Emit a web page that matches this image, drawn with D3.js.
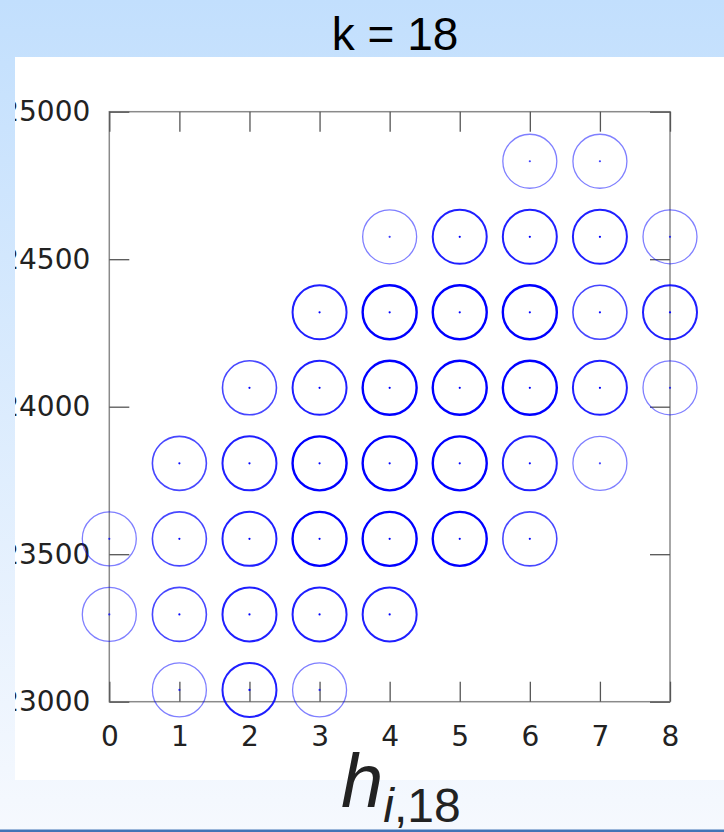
<!DOCTYPE html>
<html>
<head>
<meta charset="utf-8">
<script src="https://cdn.jsdelivr.net/npm/d3@7"></script>
<style>
  html, body { margin: 0; padding: 0; background: #ffffff; }
  svg { display: block; }
</style>
</head>
<body>
<script>
// Attained h-values (x) against the corresponding sums (y) for k = 18.
// count = how many times each (h, sum) pair occurs; drives the circle strength.
const hValues = [
  1, 2, 3,
  0, 1, 2, 3, 4,
  0, 1, 2, 3, 4, 5, 6,
  1, 2, 3, 4, 5, 6, 7,
  2, 3, 4, 5, 6, 7, 8,
  3, 4, 5, 6, 7, 8,
  4, 5, 6, 7, 8,
  6, 7
];
const sumValues = [
  23040, 23040, 23040,
  23296, 23296, 23296, 23296, 23296,
  23552, 23552, 23552, 23552, 23552, 23552, 23552,
  23808, 23808, 23808, 23808, 23808, 23808, 23808,
  24064, 24064, 24064, 24064, 24064, 24064, 24064,
  24320, 24320, 24320, 24320, 24320, 24320,
  24576, 24576, 24576, 24576, 24576,
  24832, 24832
];
const counts = [
  1, 3, 1,
  1, 2, 3, 3, 3,
  1, 2, 3, 4, 4, 4, 2,
  2, 3, 4, 4, 4, 3, 1,
  2, 3, 4, 4, 4, 3, 1,
  3, 4, 4, 4, 2, 3,
  1, 3, 3, 3, 1,
  1, 1
];
const xTicks = [0, 1, 2, 3, 4, 5, 6, 7, 8];
const yTicks = [23000, 23500, 24000, 24500, 25000];
const titleText = "k = 18";

const W = 724, H = 832;
const svg = d3.select("body").append("svg").attr("width", W).attr("height", H);
const defs = svg.append("defs");

const grad = defs.append("linearGradient").attr("id", "bg")
  .attr("x1", 0).attr("y1", 0).attr("x2", 0).attr("y2", 1);
grad.append("stop").attr("offset", "0%").attr("stop-color", "#c2dffd");
grad.append("stop").attr("offset", "100%").attr("stop-color", "#f6f9fe");

svg.append("rect").attr("width", W).attr("height", H).attr("fill", "url(#bg)");
svg.append("rect").attr("x", 0).attr("y", 829.5).attr("width", W).attr("height", 2.5)
  .attr("fill", "#4174b6");

// Title
svg.append("text")
  .attr("x", 395).attr("y", 50)
  .attr("text-anchor", "middle")
  .attr("font-family", "'Liberation Sans', Arial, sans-serif")
  .attr("font-size", 46)
  .attr("fill", "#000")
  .text(titleText);

// White plot panel; everything inside it is clipped to its bounds
const panel = { x: 15, y: 57, w: 709, h: 723 };
defs.append("clipPath").attr("id", "panelClip")
  .append("rect").attr("x", panel.x).attr("y", panel.y).attr("width", panel.w).attr("height", panel.h);
svg.append("rect").attr("x", panel.x).attr("y", panel.y)
  .attr("width", panel.w).attr("height", panel.h).attr("fill", "#ffffff");

const g = svg.append("g").attr("clip-path", "url(#panelClip)");

const plot = { left: 109.3, right: 670, top: 111.7, bottom: 701.7 };
const x = d3.scaleLinear().domain([0, 8]).range([plot.left, plot.right]);
const y = d3.scaleLinear().domain([23000, 25000]).range([plot.bottom, plot.top]);

const tickLen = 20;
const axisFont = "'DejaVu Sans', Verdana, sans-serif";

function styleAxis(sel) {
  sel.select(".domain").remove();
  sel.selectAll(".tick line").attr("stroke", "#555").attr("stroke-width", 1.3);
  sel.selectAll(".tick text")
    .attr("font-family", axisFont).attr("font-size", 28).attr("fill", "#222");
}

// Frame
g.append("rect")
  .attr("x", plot.left).attr("y", plot.top)
  .attr("width", plot.right - plot.left).attr("height", plot.bottom - plot.top)
  .attr("fill", "none").attr("stroke", "#8a8a8a").attr("stroke-width", 1.5);

// Bottom axis (ticks pointing inward)
g.append("g").attr("transform", `translate(0,${plot.bottom})`)
  .call(d3.axisBottom(x).tickValues(xTicks).tickSizeInner(-tickLen).tickSizeOuter(0)
    .tickPadding(24).tickFormat(d3.format("d")))
  .call(styleAxis);
// Top mirror ticks
g.append("g").attr("transform", `translate(0,${plot.top})`)
  .call(d3.axisTop(x).tickValues(xTicks).tickSizeInner(-tickLen).tickSizeOuter(0).tickFormat(""))
  .call(styleAxis);
// Left axis
g.append("g").attr("transform", `translate(${plot.left},0)`)
  .call(d3.axisLeft(y).tickValues(yTicks).tickSizeInner(-tickLen).tickSizeOuter(0)
    .tickPadding(19).tickFormat(d3.format("d")))
  .call(styleAxis);
// Right mirror ticks
g.append("g").attr("transform", `translate(${plot.right},0)`)
  .call(d3.axisRight(y).tickValues(yTicks).tickSizeInner(-tickLen).tickSizeOuter(0).tickFormat(""))
  .call(styleAxis);

// Points: open circles, stronger where the pair occurs more often
const points = hValues.map((h, i) => ({ h, s: sumValues[i], n: counts[i] }))
  .sort((a, b) => a.n - b.n);
const alphaByCount = [0, 0.5, 0.72, 0.88, 1];
const widthByCount = [0, 1.3, 1.6, 2.0, 2.4];

const pts = g.append("g").selectAll("g").data(points).join("g")
  .attr("transform", d => `translate(${x(d.h)},${y(d.s)})`);
pts.append("circle")
  .attr("r", 27)
  .attr("fill", "none")
  .attr("stroke", "#0000ff")
  .attr("stroke-opacity", d => alphaByCount[d.n])
  .attr("stroke-width", d => widthByCount[d.n]);
pts.append("circle")
  .attr("r", 1.1)
  .attr("fill", "#0000ff")
  .attr("fill-opacity", d => Math.min(1, alphaByCount[d.n] + 0.25));

// Axis label h_{i,18}
const lab = svg.append("text")
  .attr("x", 341).attr("y", 807)
  .attr("font-family", "'Liberation Sans', Arial, sans-serif")
  .attr("fill", "#222");
lab.append("tspan").attr("font-size", 76).attr("font-style", "italic").text("h");
lab.append("tspan").attr("font-size", 48).attr("font-style", "italic").attr("dy", 15).attr("dx", 0).text("i");
lab.append("tspan").attr("font-size", 48).text(",18");
</script>
</body>
</html>
